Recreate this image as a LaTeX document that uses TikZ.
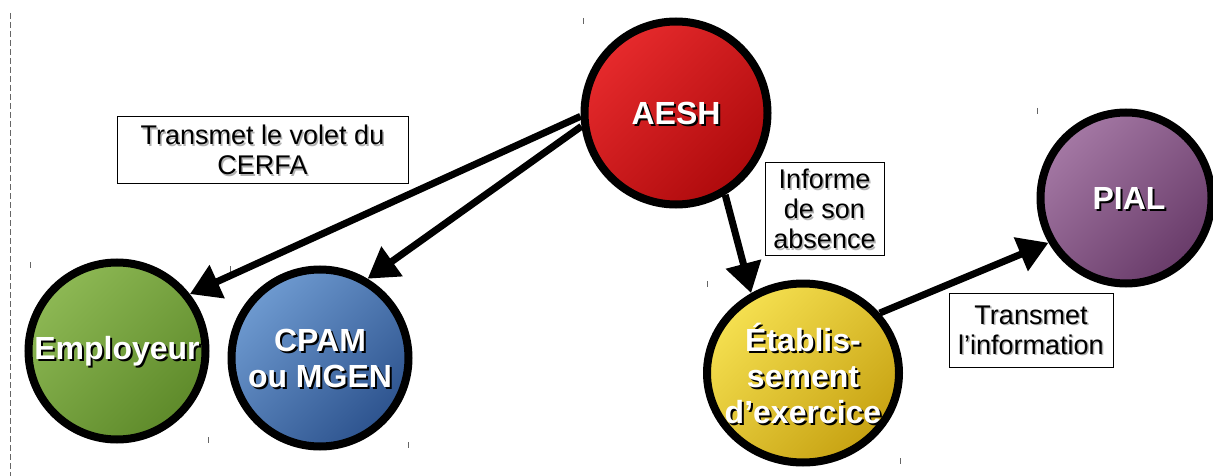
\documentclass[tikz,border=0pt]{standalone}
\usepackage{fontspec}
\setmainfont{Liberation Sans}
\usetikzlibrary{arrows.meta,shapes.geometric}
\definecolor{aeshA}{HTML}{E62A2C}
\definecolor{aeshB}{HTML}{AE0A0C}
\definecolor{empA}{HTML}{8DB854}
\definecolor{empB}{HTML}{5E8A2A}
\definecolor{cpamA}{HTML}{6E9AD0}
\definecolor{cpamB}{HTML}{2D538E}
\definecolor{etabA}{HTML}{F5E050}
\definecolor{etabB}{HTML}{C7A212}
\definecolor{pialA}{HTML}{A478A4}
\definecolor{pialB}{HTML}{683B69}
\begin{document}
\begin{tikzpicture}[x=1pt,y=-1pt,
  bubble/.style={draw=black, line width=8pt, inner sep=0pt},
  fillwith/.style 2 args={top color=#1, bottom color=#2, shading angle=45},
  bigtxt/.style={inner sep=0pt, align=center, text=white,
    font=\fontsize{32}{36}\selectfont\bfseries},
  bigshadow/.style={bigtxt, text=black},
  infobox/.style={draw=black, line width=1pt, fill=white, inner sep=0pt,
    align=center},
  boxtxt/.style={inner sep=0pt, align=center, text=black,
    font=\fontsize{27}{30}\selectfont},
  boxshadow/.style={boxtxt, text=black!30},
  arr/.style={line width=7pt, -{Triangle[length=30pt,width=35pt]}},
  tick/.style={draw=black!60, line width=1pt},
]
\useasboundingbox (0,0) rectangle (1213,476);
\fill[white] (0,0) rectangle (1213,476);

% dashed margin line
\draw[black!60, line width=1pt, dash pattern=on 6pt off 3pt] (10,13) -- (10,476);

% small marks
\foreach \px/\py in {583/18, 30/262, 230/266, 208/437, 408/442, 1037/108, 707/281, 900/458}
  \draw[tick] (\px,\py) -- ++(0,6);

% bubbles
\node[bubble, circle, minimum size=183pt, fillwith={aeshA}{aeshB}] (aesh) at (676,113) {};
\node[bubble, circle, minimum size=177pt, fillwith={empA}{empB}] (emp) at (117,351) {};
\node[bubble, circle, minimum size=177pt, fillwith={cpamA}{cpamB}] (cpam) at (320,358) {};
\node[bubble, ellipse, minimum width=192pt, minimum height=179pt, fillwith={etabA}{etabB}] (etab) at (803,373) {};
\node[bubble, circle, minimum size=171pt, fillwith={pialA}{pialB}] (pial) at (1126,198) {};

% bubble labels
\node[bigshadow] (aesh-s) at ([shift={(2,2)}]aesh.center) {AESH};
\node[bigtxt] (aesh-t) at (aesh.center) {AESH};
\node[bigshadow] (emp-s) at ([shift={(2,2)}]emp.center) {Employeur};
\node[bigtxt] (emp-t) at (emp.center) {Employeur};
\node[bigshadow] (cpam-s) at ([shift={(2,2)}]cpam.center) {CPAM\\ou MGEN};
\node[bigtxt] (cpam-t) at (cpam.center) {CPAM\\ou MGEN};
\node[bigshadow] (etab-s) at ([shift={(2,2)}]etab.center) {Établis-\\sement\\d’exercice};
\node[bigtxt] (etab-t) at (etab.center) {Établis-\\sement\\d’exercice};
\node[bigshadow] (pial-s) at ([shift={(5,2)}]pial.center) {PIAL};
\node[bigtxt] (pial-t) at ([shift={(3,0)}]pial.center) {PIAL};

% connectors
\draw[arr] (aesh.182.5) -- (emp.38);
\draw[arr] (aesh.188) -- (cpam.59);
\draw[arr] (aesh.301) -- (etab.123);
\draw[arr] (etab.38) -- (pial.210);

% text boxes
\node[infobox, minimum width=291pt, minimum height=66pt] (b1) at (262.5,150) {};
\node[boxshadow] (b1-s) at ([shift={(1.5,1.5)}]b1.center) {Transmet le volet du\\CERFA};
\node[boxtxt] (b1-t) at (b1.center) {Transmet le volet du\\CERFA};

\node[infobox, minimum width=119pt, minimum height=92pt] (b2) at (824.5,209) {};
\node[boxshadow] (b2-s) at ([shift={(1.5,1.5)}]b2.center) {Informe\\de son\\absence};
\node[boxtxt] (b2-t) at (b2.center) {Informe\\de son\\absence};

\node[infobox, minimum width=164pt, minimum height=74pt] (b3) at (1031,330) {};
\node[boxshadow] (b3-s) at ([shift={(1.5,1.5)}]b3.center) {Transmet\\l’information};
\node[boxtxt] (b3-t) at (b3.center) {Transmet\\l’information};
\end{tikzpicture}
\end{document}
